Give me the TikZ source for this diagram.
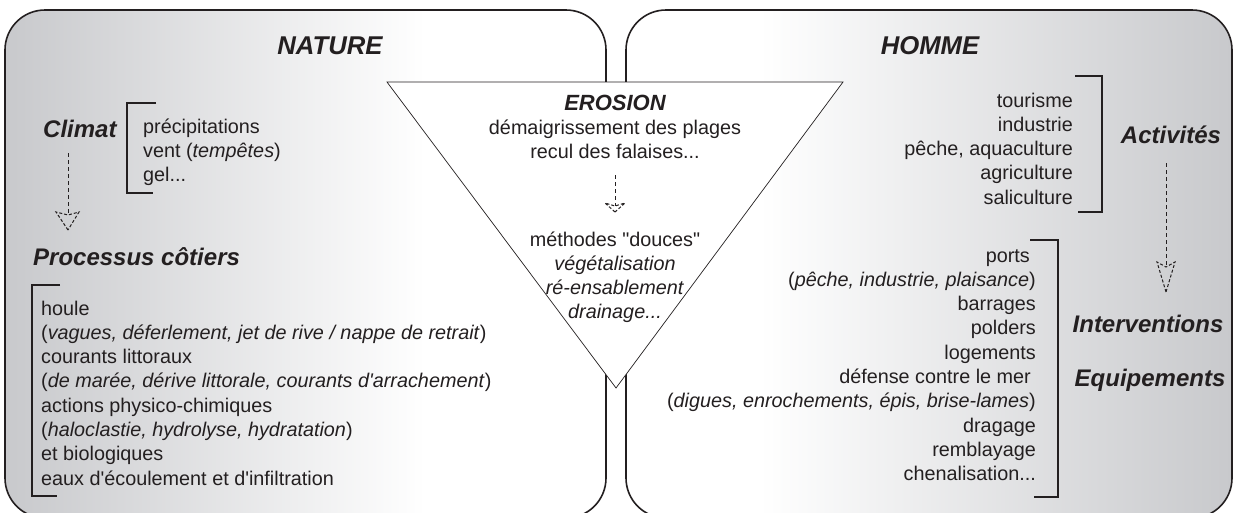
\documentclass[tikz,border=0pt]{standalone}
\usepackage{fontspec}
\setmainfont{Liberation Sans}
\usetikzlibrary{calc}
\definecolor{pgray}{RGB}{200,201,204}
\definecolor{ink}{RGB}{35,31,32}
\pgfdeclarehorizontalshading{lpanel}{100bp}{color(0bp)=(pgray); color(25bp)=(pgray); color(60bp)=(white); color(100bp)=(white)}
\pgfdeclarehorizontalshading{rpanel}{100bp}{color(0bp)=(white); color(36bp)=(white); color(75bp)=(pgray); color(100bp)=(pgray)}
\newcommand{\myap}{\textquotesingle}
\newcommand{\myqq}{\textquotedbl}
\tikzset{
  title/.style={font=\fontsize{25.7}{30}\selectfont\bfseries\itshape, text=ink, inner sep=0pt, anchor=base},
  sub/.style={font=\fontsize{24}{28}\selectfont\bfseries\itshape, text=ink, inner sep=0pt, anchor=base},
  list/.style={font=\fontsize{19.8}{24.3}\selectfont, text=ink, inner sep=0pt},
  panel/.style={draw=ink, line width=1.6pt, rounded corners=40pt},
  brk/.style={draw=ink, line width=1.4pt},
  flow/.style={draw=ink, line width=1pt, dash pattern=on 4pt off 3pt},
  head/.style={draw=ink, line width=1pt, dash pattern=on 3pt off 2pt, line join=miter},
}
\begin{document}
\begin{tikzpicture}[x=1pt,y=-1pt]
\useasboundingbox (0,0) rectangle (1235,512);
% panels
\begin{scope}
\clip (0,0) rectangle (1235,512);
\shadedraw[panel, shading=lpanel] (5,10) rectangle (606,518);
\shadedraw[panel, shading=rpanel] (626,10) rectangle (1232,518);
\end{scope}
% triangle
\draw[ink, line width=0.7pt, fill=white, line join=miter] (387,82) -- (843,82) -- (616,388) -- cycle;

% titles
\node[title] (nature) at (330,54) {NATURE};
\node[title] (homme) at (930,54) {HOMME};

% NATURE side
\node[sub, anchor=base west] (climat) at (43,137) {Climat};
\node[list, anchor=base west] (clist) at (143,133) {\begin{tabular}[t]{@{}l@{}}précipitations\\vent (\textit{tempêtes})\\gel...\end{tabular}};
\draw[brk] (156,103) -- (127,103) -- (127,193) -- (153,193);

\node[sub, anchor=base west] (proc) at (33,265) {Processus côtiers};
\node[list, anchor=base west] (plist) at (41,315) {\begin{tabular}[t]{@{}l@{}}houle\\(\textit{vagues, déferlement, jet de rive / nappe de retrait})\\courants littoraux\\(\textit{de marée, dérive littorale, courants d\myap arrachement})\\actions physico-chimiques\\(\textit{haloclastie, hydrolyse, hydratation})\\et biologiques\\eaux d\myap écoulement et d\myap infiltration\end{tabular}};
\draw[brk] (60,285) -- (32,285) -- (32,496) -- (57,496);

\coordinate (a1s) at (68,153);
\coordinate (a1t) at (68,230);
\draw[flow] (a1s) -- ($(a1t)+(0,-15)$);
\draw[head] (a1t) -- ++(-12,-18) -- ++(12,3) -- ++(11,-3) -- cycle;

% EROSION
\node[title, font=\fontsize{22}{26}\selectfont\bfseries\itshape] (erosion) at (615,110) {EROSION};
\node[list, anchor=base] (eff) at (615,134) {\begin{tabular}[t]{@{}c@{}}démaigrissement des plages\\recul des falaises...\end{tabular}};
\node[list, anchor=base] (meth) at (615,246) {\begin{tabular}[t]{@{}c@{}}méthodes \myqq douces\myqq\\\textit{végétalisation}\\\textit{ré-ensablement}\\\textit{drainage...}\end{tabular}};
\coordinate (a2s) at (615,175);
\coordinate (a2t) at (615,212);
\draw[flow] (a2s) -- ($(a2t)+(0,-6)$);
\draw[head] (a2t) -- ++(-10,-9) -- ++(10,3) -- ++(10,-3) -- cycle;

% HOMME side
\node[list, anchor=base east] (alist) at (1073,107) {\begin{tabular}[t]{@{}r@{}}tourisme\\industrie\\pêche, aquaculture\\agriculture\\saliculture\end{tabular}};
\draw[brk] (1075,76) -- (1102,76) -- (1102,212) -- (1078,212);
\node[sub] (activ) at (1171,143) {Activités};

\node[list, anchor=base east] (elist) at (1036,262) {\begin{tabular}[t]{@{}r@{}}ports\hspace*{6pt}\\(\textit{pêche, industrie, plaisance})\\barrages\\polders\\logements\\défense contre le mer\hspace*{5pt}\\(\textit{digues, enrochements, épis, brise-lames})\\dragage\\remblayage\\chenalisation...\end{tabular}};
\draw[brk] (1030,240) -- (1058,240) -- (1058,497) -- (1034,497);
\node[sub] (interv) at (1148,332) {Interventions};
\node[sub] (equip) at (1150,386) {Equipements};

\coordinate (a3s) at (1166,163);
\coordinate (a3t) at (1166,292);
\draw[flow] (a3s) -- ($(a3t)+(0,-25)$);
\draw[head] (a3t) -- ++(-9,-30) -- ++(9,5) -- ++(9,-5) -- cycle;
\end{tikzpicture}
\end{document}
